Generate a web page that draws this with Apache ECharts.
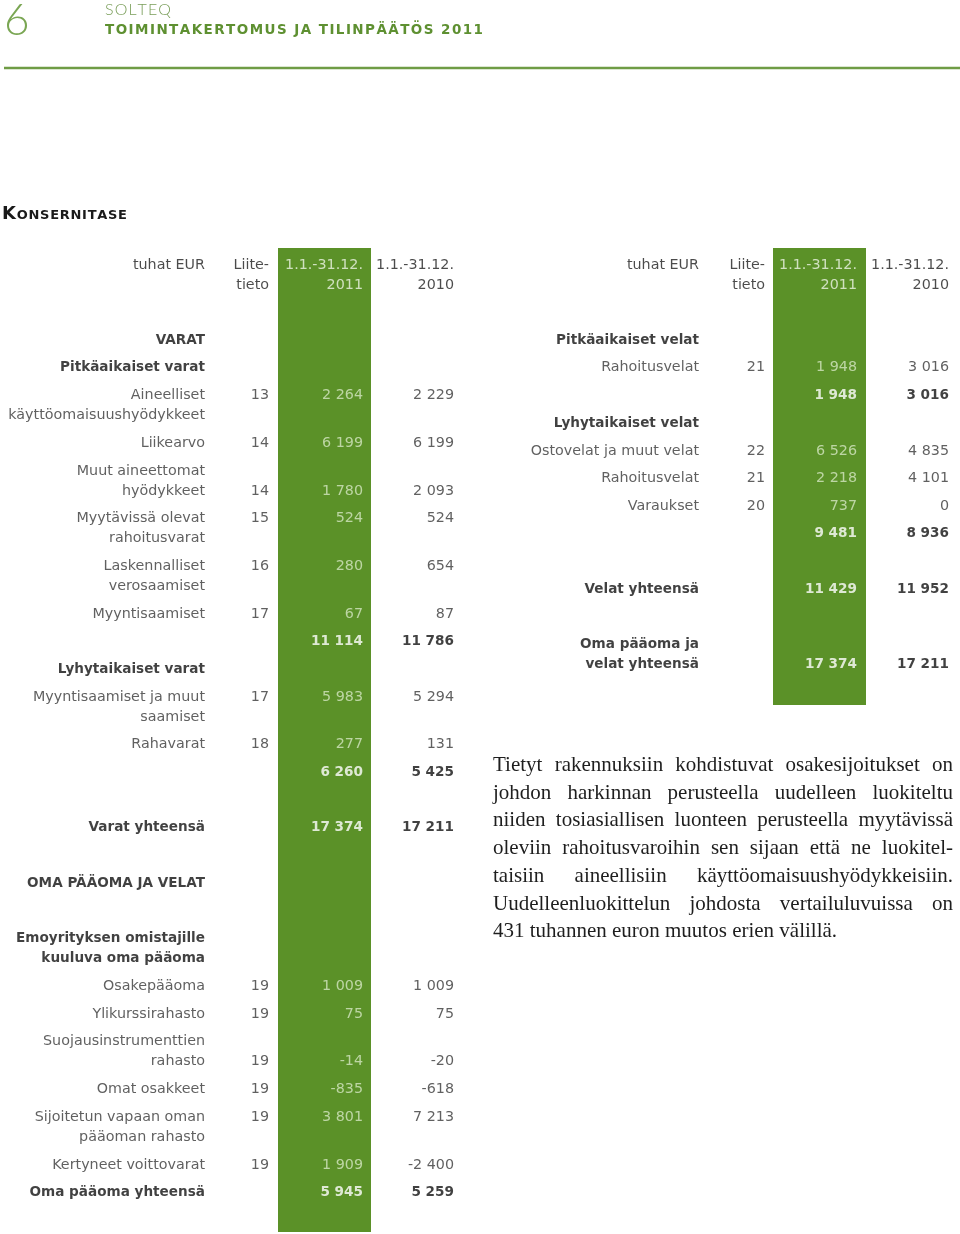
<!DOCTYPE html>
<html>
<head>
<meta charset="utf-8">
<script src="https://cdn.jsdelivr.net/npm/echarts@6/dist/echarts.min.js"></script>
<style>
html, body { margin: 0; padding: 0; background: #fff; }
#main { width: 960px; height: 1234px; }
</style>
</head>
<body>
<div id="main"></div>
<script>
// Konsernitase, tuhat EUR
const headerLabels = ['tuhat EUR', 'Liite-\ntieto', '1.1.-31.12.\n2011', '1.1.-31.12.\n2010'];

// vastaavaa (vasen taulukko)
const leftLabels = [
  'VARAT', 'Pitkäaikaiset varat', 'Aineelliset\nkäyttöomaisuushyödykkeet', 'Liikearvo',
  'Muut aineettomat\nhyödykkeet', 'Myytävissä olevat\nrahoitusvarat', 'Laskennalliset\nverosaamiset',
  'Myyntisaamiset', '', 'Lyhytaikaiset varat', 'Myyntisaamiset ja muut\nsaamiset', 'Rahavarat', '',
  '', 'Varat yhteensä', '', 'OMA PÄÄOMA JA VELAT', '', 'Emoyrityksen omistajille\nkuuluva oma pääoma',
  'Osakepääoma', 'Ylikurssirahasto', 'Suojausinstrumenttien\nrahasto', 'Omat osakkeet',
  'Sijoitetun vapaan oman\npääoman rahasto', 'Kertyneet voittovarat', 'Oma pääoma yhteensä'
]
const leftNotes = [null, null, 13, 14, 14, 15, 16, 17, null, null, 17, 18, null,
  null, null, null, null, null, null, 19, 19, 19, 19, 19, 19, null]
const left2011 = [null, null, 2264, 6199, 1780, 524, 280, 67, 11114, null, 5983, 277, 6260,
  null, 17374, null, null, null, null, 1009, 75, -14, -835, 3801, 1909, 5945]
const left2010 = [null, null, 2229, 6199, 2093, 524, 654, 87, 11786, null, 5294, 131, 5425,
  null, 17211, null, null, null, null, 1009, 75, -20, -618, 7213, -2400, 5259]

// vastattavaa (oikea taulukko)
const rightLabels = [
  'Pitkäaikaiset velat', 'Rahoitusvelat', '', 'Lyhytaikaiset velat', 'Ostovelat ja muut velat',
  'Rahoitusvelat', 'Varaukset', '', '', 'Velat yhteensä', '', 'Oma pääoma ja\nvelat yhteensä'
]
const rightNotes = [null, 21, null, null, 22, 21, 20, null, null, null, null, null]
const right2011 = [null, 1948, 1948, null, 6526, 2218, 737, 9481, null, 11429, null, 17374]
const right2010 = [null, 3016, 3016, null, 4835, 4101, 0, 8936, null, 11952, null, 17211]

// rivit joilla luvut ovat nimen toisella rivillä
const secondLine = ['Muut aineettomat\nhyödykkeet', 'Suojausinstrumenttien\nrahasto', 'Oma pääoma ja\nvelat yhteensä']

const noteText = [
  'Tietyt rakennuksiin kohdistuvat osakesijoitukset on',
  'johdon harkinnan perusteella uudelleen luokiteltu',
  'niiden tosiasiallisen luonteen perusteella myytävissä',
  'oleviin rahoitusvaroihin sen sijaan että ne luokitel-',
  'taisiin aineellisiin käyttöomaisuushyödykkeisiin.',
  'Uudelleenluokittelun johdosta vertailuluvuissa on',
  '431 tuhannen euron muutos erien välillä.'
]

const GREEN = '#5b9128'
const HEAD = 265.5 // otsikkorivi
const FIRST = 340 // ensimmäinen rivi
const ROW = 27.7
const WRAP = 20
const leftCols = [205, 269, 363, 454]
const rightCols = [699, 765, 857, 949]

function fmt (v) {
  const s = String(Math.abs(v)).replace(/\B(?=(\d{3})+(?!\d))/g, ' ')
  return (v < 0 ? '-' : '') + s
}

function cell (x, y, text, bold, inGreen, header) {
  let color = bold ? '#111111' : '#383838'
  if (header) color = '#1e1e1e'
  if (inGreen) color = bold ? '#ffffff' : '#d6e7c3'
  if (inGreen && header) color = '#eef5e6'
  return {
    name: text,
    value: [x, y],
    label: {
      fontWeight: bold ? 'bold' : 'normal',
      fontSize: bold ? 13.6 : 14.3,
      color: color
    }
  }
}

function buildTable (labels, notes, a, b, cols) {
  const items = []
  headerLabels.forEach((h, c) => {
    h.split('\n').forEach((line, k) => {
      items.push(cell(cols[c], HEAD + k * WRAP, line, false, c === 2, true))
    })
  })
  let y = FIRST
  labels.forEach((label, i) => {
    const lines = label.split('\n')
    const bold = notes[i] === null
    lines.forEach((line, k) => {
      if (line) items.push(cell(cols[0], y + k * WRAP, line, bold, false))
    })
    const vy = secondLine.includes(label) ? y + (lines.length - 1) * WRAP : y
    if (notes[i] !== null) items.push(cell(cols[1], vy, String(notes[i]), false, false))
    if (a[i] !== null) items.push(cell(cols[2], vy, fmt(a[i]), bold, true))
    if (b[i] !== null) items.push(cell(cols[3], vy, fmt(b[i]), bold, false))
    y += (lines.length - 1) * WRAP + ROW
  })
  return items
}

// tekstin mittaus tasaukseen
const ctx = document.createElement('canvas').getContext('2d')
function measure (text, font) {
  ctx.font = font
  return ctx.measureText(text).width
}

function textEl (x, y, text, font, fill) {
  return {
    type: 'text',
    x: x,
    y: y,
    silent: true,
    style: { text: text, font: font, fill: fill, align: 'left', verticalAlign: 'middle', textAlign: 'left', textVerticalAlign: 'middle' }
  }
}

// harvennettu teksti: merkit levitetään annetulle leveydelle
function spaced (parts, x, y, width, fill) {
  const chars = []
  parts.forEach(p => p.text.split('').forEach(ch => chars.push({ ch: ch, font: p.font, dy: p.dy || 0 })))
  const total = chars.reduce((s, c) => s + measure(c.ch, c.font), 0)
  const gap = (width - total) / (chars.length - 1)
  const els = []
  let cx = x
  chars.forEach(c => {
    els.push(textEl(cx, y + c.dy, c.ch, c.font, fill))
    cx += measure(c.ch, c.font) + gap
  })
  return els
}

// tasattu kappale
function justified (lines, x, y, width, font, fill) {
  const els = []
  lines.forEach((line, i) => {
    const ly = y + i * ROW
    const words = line.split(' ')
    if (i === lines.length - 1) {
      els.push(textEl(x, ly, line, font, fill))
      return
    }
    const total = words.reduce((s, w) => s + measure(w, font), 0)
    const gap = (width - total) / (words.length - 1)
    let cx = x
    words.forEach(w => {
      els.push(textEl(cx, ly, w, font, fill))
      cx += measure(w, font) + gap
    })
  })
  return els
}

const headGreen = '#6a9b3f'
const graphics = [
  textEl(4, 21, '6', '300 44px Lato', '#7aa653'),
  { type: 'line', silent: true, shape: { x1: 4, y1: 68, x2: 960, y2: 68 }, style: { stroke: '#6f9c45', lineWidth: 2.5 } }
]
  .concat(spaced([{ text: 'SOLTEQ', font: '300 16px Lato' }], 105, 10, 66, '#7a9e5a'))
  .concat(spaced([{ text: 'TOIMINTAKERTOMUS JA TILINPÄÄTÖS 2011', font: 'bold 13.5px "DejaVu Sans"' }], 105, 30, 378, '#5e9031'))
  .concat(spaced([
    { text: 'K', font: 'bold 18px "DejaVu Sans"', dy: -1.6 },
    { text: 'ONSERNITASE', font: 'bold 13px "DejaVu Sans"' }
  ], 2, 215.5, 125, '#1a1a1a'))
  .concat(justified(noteText, 493, 765.5, 460, '21px "Liberation Serif"', '#1e1e1e'))

const chart = echarts.init(document.getElementById('main'), null, { renderer: 'canvas' })
const option = {
  animation: false,
  backgroundColor: '#fff',
  grid: { left: 0, right: 0, top: 0, bottom: 0 },
  xAxis: { type: 'value', min: 0, max: 960, show: false },
  yAxis: { type: 'value', min: 0, max: 1234, inverse: true, show: false },
  graphic: graphics,
  series: [
    {
      type: 'scatter',
      z: 1,
      silent: true,
      data: [],
      markArea: {
        silent: true,
        itemStyle: { color: GREEN, opacity: 1 },
        data: [
          [{ coord: [278, 248] }, { coord: [371, 1232] }],
          [{ coord: [773, 248] }, { coord: [866, 705] }]
        ]
      }
    },
    {
      type: 'scatter',
      z: 3,
      silent: true,
      symbolSize: 0,
      label: {
        show: true,
        position: 'left',
        distance: 0,
        fontFamily: 'DejaVu Sans',
        formatter: p => p.name
      },
      data: buildTable(leftLabels, leftNotes, left2011, left2010, leftCols)
        .concat(buildTable(rightLabels, rightNotes, right2011, right2010, rightCols))
    }
  ]
}
chart.setOption(option)
</script>
</body>
</html>
